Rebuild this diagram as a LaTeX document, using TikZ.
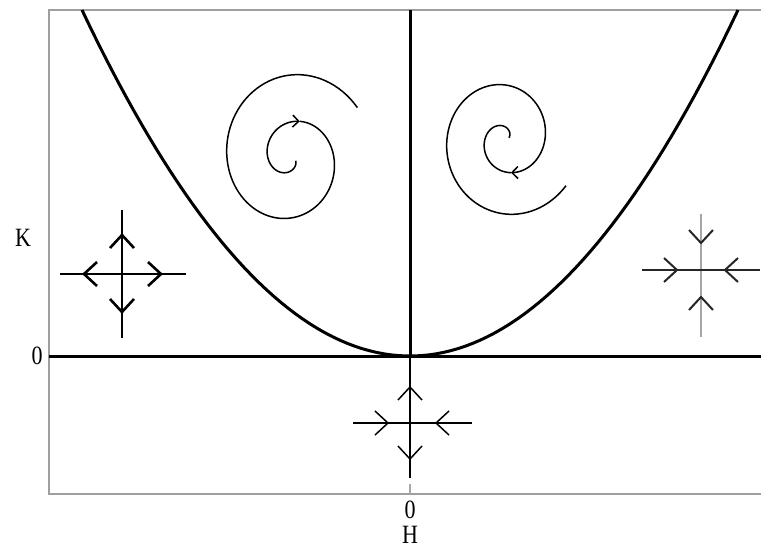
\documentclass[tikz,border=0pt]{standalone}
\usepackage{graphicx}
\usepackage{fontspec}
\setmainfont{Liberation Serif}
\usetikzlibrary{arrows.meta}
\tikzset{
  frameline/.style={draw=gray!75,line width=1.2pt},
  axisline/.style={line width=3pt},
  fatcross/.style={line width=2.6pt},
  thincross/.style={line width=1.5pt},
  spiral/.style={line width=1.5pt},
  spiraltip/.style={-{Straight Barb[length=6pt,width=12pt]}},
  lbl/.style={font=\fontsize{22}{22}\selectfont,inner sep=0pt},
}
\newcommand{\tallbox}[1]{\scalebox{1}[1.2]{#1}}

\begin{document}
\begin{tikzpicture}[x=1pt,y=-1pt]
\useasboundingbox (0,0) rectangle (761,547);
% frame and axes
\draw[frameline] (761,10) -- (49,10) -- (49,494) -- (761,494);
\draw[axisline] (49,356) -- (761,356);
\draw[axisline] (410,10) -- (410,356);
\draw[axisline] plot[domain=-328:328,samples=90] ({410+\x},{356-346*(\x/328)^2});
% labels
\node[lbl] (klabel) at (23,238) {\tallbox{K}};
\node[lbl] (kzero) at (37,356) {\tallbox{0}};
\node[lbl] (hzero) at (410,510) {\tallbox{0}};
\node[lbl] (hlabel) at (410,535) {\tallbox{H}};
% unstable node, left
\draw[fatcross] (122,210) -- (122,338);
\draw[fatcross] (60,274) -- (186,274);
\foreach \tx/\ty/\ux/\uy in {122/235/0/-1,122/312/0/1,84/274/-1/0,161/274/1/0}
  \draw[fatcross] ({\tx-13*\ux+12*\uy},{\ty-13*\uy-12*\ux}) -- (\tx,\ty)
    -- ({\tx-13*\ux-12*\uy},{\ty-13*\uy+12*\ux});
% stable node, right
\draw[line width=1.3pt,gray!70] (701,214) -- (701,337);
\draw[line width=2pt,black!85] (642,270) -- (760,270);
\foreach \tx/\ty/\ux/\uy in {701/243/0/1,701/297/0/-1,677/270/1/0,725/270/-1/0}
  \draw[line width=2pt,black!85] ({\tx-13*\ux+12*\uy},{\ty-13*\uy-12*\ux}) -- (\tx,\ty)
    -- ({\tx-13*\ux-12*\uy},{\ty-13*\uy+12*\ux});
% saddle, below
\draw[line width=1.4pt] (410,358) -- (410,478);
\draw[line width=1.2pt,gray!70] (410,484) -- (410,494);
\draw[thincross] (353,423) -- (472,423);
\foreach \tx/\ty/\ux/\uy in {410/387/0/-1,410/459/0/1,388/423/1/0,436/423/-1/0}
  \draw[thincross] ({\tx-13*\ux+12*\uy},{\ty-13*\uy-12*\ux}) -- (\tx,\ty)
    -- ({\tx-13*\ux-12*\uy},{\ty-13*\uy+12*\ux});
% unstable focus
\draw[spiral,spiraltip] plot[domain=30:285,samples=70]
  ({290.75+(2.25+0.1139*\x)*cos(\x)},{158.25+(1+0.1306*\x)*sin(\x)});
\draw[spiral] plot[domain=285:686,samples=110]
  ({290.75+(2.25+0.1139*\x)*cos(\x)},{158.25+(1+0.1306*\x)*sin(\x)});
% stable focus
\draw[spiral,spiraltip] plot[domain=0:405,samples=110]
  ({505.5+(1.5+0.1056*(685-\x))*cos(685-\x)},{139-(1.5+0.1167*(685-\x))*sin(685-\x)});
\draw[spiral] plot[domain=405:665,samples=70]
  ({505.5+(1.5+0.1056*(685-\x))*cos(685-\x)},{139-(1.5+0.1167*(685-\x))*sin(685-\x)});
\end{tikzpicture}
\end{document}
